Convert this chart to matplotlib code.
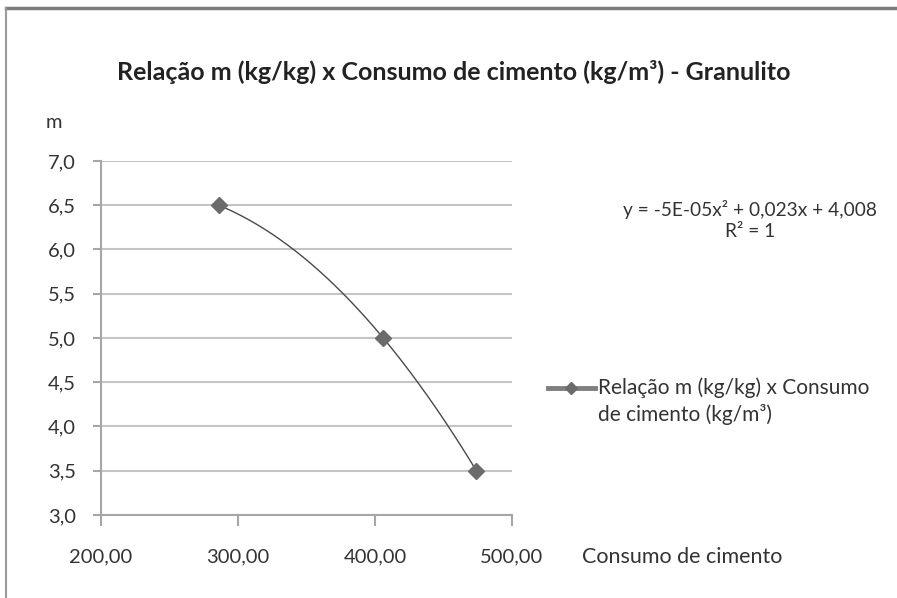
import numpy as np
import matplotlib
matplotlib.use("Agg")
import matplotlib.pyplot as plt
from matplotlib.lines import Line2D

# DATA
consumo = [286, 406, 474]          # consumo de cimento (kg/m3)
m_values = [6.5, 5.0, 3.5]         # relacao m (kg/kg)
x_ticks = [200, 300, 400, 500]
y_ticks = [3.0, 3.5, 4.0, 4.5, 5.0, 5.5, 6.0, 6.5, 7.0]
title = "Relação m (kg/kg) x Consumo de cimento (kg/m³) - Granulito"
series_label = "Relação m (kg/kg) x Consumo\nde cimento (kg/m³)"
eq_text = "y = -5E-05x² + 0,023x + 4,008\nR² = 1"

plt.rcParams['font.family'] = ['Lato', 'DejaVu Sans']

W, H = 897, 598
fig = plt.figure(figsize=(W / 100, H / 100), dpi=100, facecolor="white")


def px(x, y):
    return x / W, 1 - y / H


# outer chart frame (only top and left edges visible, rest is cropped)
fig.lines.append(Line2D([6 / W, 1.01], [1 - 8 / H] * 2, transform=fig.transFigure,
                        color="#7c7c7c", linewidth=2.5))
fig.lines.append(Line2D([6 / W] * 2, [1 - 8 / H, -0.01], transform=fig.transFigure,
                        color="#9a9a9a", linewidth=1.5))

left, top = px(101, 161)
right, bottom = px(512, 515)
ax = fig.add_axes([left, bottom, right - left, top - bottom])
ax.set_facecolor("white")

# trendline (polynomial, order 2) between first and last points
coef = np.polyfit(consumo, m_values, 2)
xs = np.linspace(min(consumo), max(consumo), 200)
ax.plot(xs, np.polyval(coef, xs), color="#4a4a4a", linewidth=1.0, zorder=3)
ax.plot(consumo, m_values, linestyle="none", marker="D", markersize=8.5,
        color="#6b6b6b", zorder=4)

ax.set_xlim(200, 500)
ax.set_ylim(3.0, 7.0)
ax.set_xticks(x_ticks)
ax.set_yticks(y_ticks)
ax.set_xticklabels([f"{v:.2f}".replace(".", ",") for v in x_ticks])
ax.set_yticklabels([f"{v:.1f}".replace(".", ",") for v in y_ticks])
ax.yaxis.grid(True, color="#c4c4c4", linewidth=1.5)
ax.set_axisbelow(True)
for s in ["top", "right"]:
    ax.spines[s].set_visible(False)
for s in ["left", "bottom"]:
    ax.spines[s].set_color("#a6a6a6")
    ax.spines[s].set_linewidth(1.5)
ax.tick_params(axis="both", colors="#a6a6a6", width=1.5, labelcolor="#333333",
               labelsize=14.5)
ax.tick_params(axis="y", length=6, pad=12)
ax.tick_params(axis="x", length=8, pad=16)

fig.text(*px(454, 72), title, ha="center", va="center", fontsize=18,
         fontweight="bold", color="#222222")
fig.text(*px(54, 123), "m", ha="center", va="center", fontsize=14.5, color="#333333")
fig.text(*px(582, 557), "Consumo de cimento", ha="left", va="center",
         fontsize=15.5, color="#333333")
fig.text(*px(750, 220), eq_text, ha="center", va="center", fontsize=13.8,
         color="#333333", linespacing=1.3, multialignment="center")

# legend: handle aligned with the first text line (Excel style)
fig.lines.append(Line2D([548 / W, 595 / W], [1 - 388 / H] * 2, transform=fig.transFigure,
                        color="#7f7f7f", linewidth=3.5))
fig.lines.append(Line2D([571 / W], [1 - 388 / H], transform=fig.transFigure,
                        marker="D", markersize=6, color="#6b6b6b", linestyle="none"))
fig.text(*px(598, 377), series_label, ha="left", va="top", fontsize=15,
         color="#333333", linespacing=1.4)

fig.savefig("out.png", dpi=100, facecolor="white")
